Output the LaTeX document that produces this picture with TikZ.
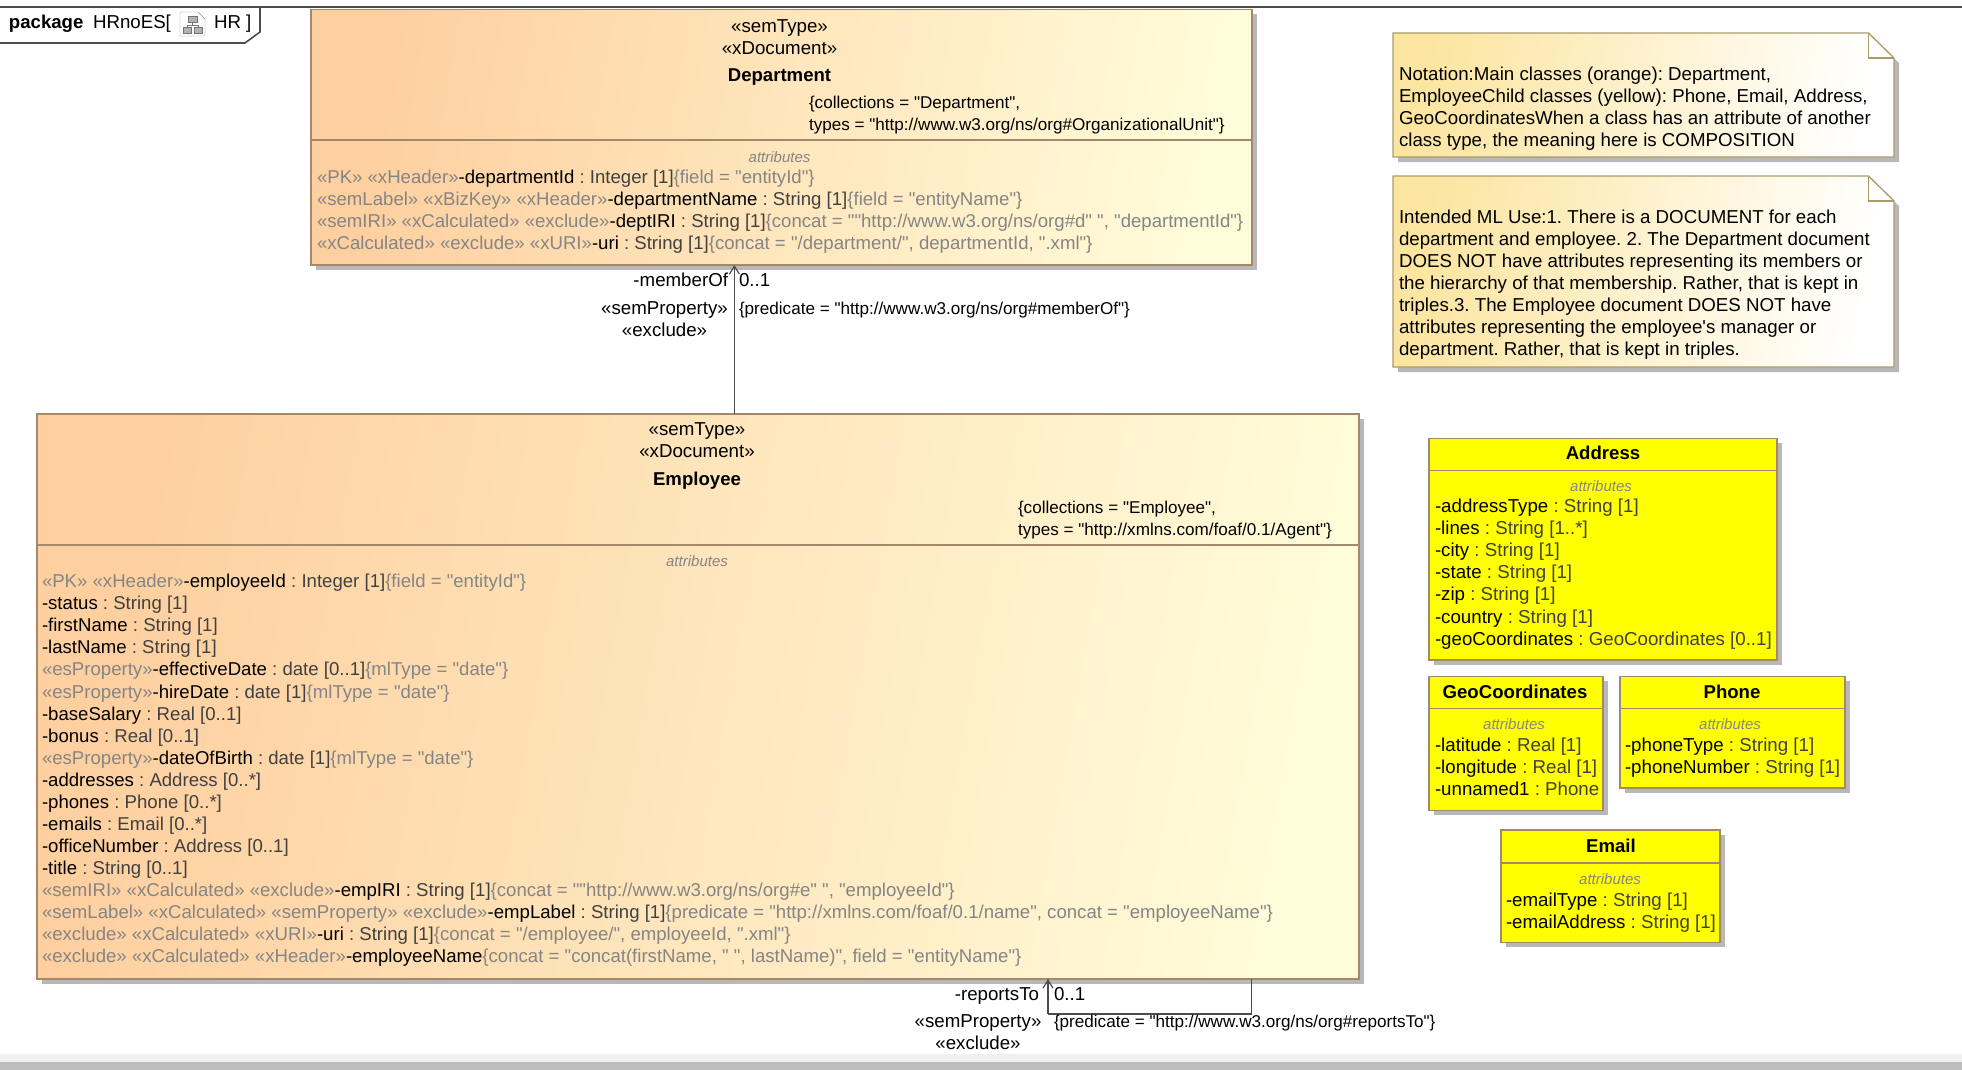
\documentclass[tikz,border=0pt]{standalone}
\usepackage{fontspec}
\defaultfontfeatures[\rmfamily]{}
\setmainfont{Liberation Sans}
\usepackage{xcolor}
\usetikzlibrary{positioning,calc,shadows,arrows.meta}
\frenchspacing
\definecolor{boxline}{HTML}{A3886A}
\definecolor{noteline}{HTML}{A89C6C}
\definecolor{orangeL}{HTML}{FECF9F}
\definecolor{orangeR}{HTML}{FFFCD9}
\definecolor{noteL}{HTML}{FCE5A0}
\definecolor{stereogray}{HTML}{858585}
\definecolor{typegray}{HTML}{404040}
\definecolor{shadowgray}{HTML}{B8B8B8}
\definecolor{childfill}{HTML}{FFFF00}
\tikzset{boxshadow/.style={copy shadow={shadow xshift=5pt, shadow yshift=-5pt, fill=shadowgray, draw=none}}}
\tikzset{clsbox/.style={draw=boxline, line width=1.3pt, inner sep=0, outer sep=0, anchor=north west, boxshadow}}
\tikzset{mainbox/.style={clsbox, bottom color=orangeL, top color=orangeR, shading angle=-100}}
\tikzset{childbox/.style={clsbox, fill=childfill}}
\tikzset{notepaper/.style={draw=noteline, line width=1.3pt, bottom color=noteL, top color=white, shading angle=-100}}
\tikzset{txt/.style={inner sep=0, outer sep=0, font=\fontsize{18.7}{22}\selectfont}}
\tikzset{row/.style={txt, anchor=base west}}
\tikzset{mainrow/.style={row, font=\fontsize{18.6}{22}\selectfont}}
\tikzset{tagrow/.style={row, font=\fontsize{17.1}{22}\selectfont}}
\tikzset{mid/.style={txt, anchor=base}}
\tikzset{attr/.style={mid, font=\fontsize{15}{18}\itshape\selectfont, text=stereogray}}
\tikzset{ttl/.style={mid, font=\fontsize{18.6}{22}\bfseries\selectfont}}
\tikzset{arr/.style={draw=black!70, line width=1.2pt, -{Straight Barb[length=8pt, width=10pt]}}}
\tikzset{lnk/.style={draw=black!70, line width=1.2pt}}
\newcommand{\stereo}[1]{\textcolor{stereogray}{#1}}
\newcommand{\typ}[1]{\textcolor{typegray}{#1}}

\begin{document}
\begin{tikzpicture}[x=1pt, y=-1pt]
    \useasboundingbox (0,0) rectangle (1962,1070);
    % frame of the package
    \draw[black!70, line width=1.6pt] (0,7) -- (1962,7);
    \draw[black!70, line width=1.6pt, fill=white] (-3,7) -- (260,7) -- (260,32) -- (245,43) -- (-3,43);
    \node[row, font=\fontsize{18.6}{22}\bfseries\selectfont] (pkgword) at (9,28.5) {package};
    \node[row] (pkgname) at (93,28.5) {HRnoES[};
    \node[row] (pkgend) at (214,28.5) {HR ]};
    \draw[black!45, fill=white] (180,12) -- (198,12) -- (205,19) -- (205,36) -- (180,36) -- cycle;
    \draw[black!55, fill=black!30] (188,16) rectangle (197,22);
    \draw[black!55, fill=black!30] (183,27) rectangle (191,33);
    \draw[black!55, fill=black!30] (194,27) rectangle (202,33);
    \draw[black!55] (192.5,22) -- (192.5,25) (187,27) -- (187,25) -- (198,25) -- (198,27);

    % main classes
    \node[mainbox, minimum width=941pt, minimum height=255.5pt] (dept) at (311,9.5) {};
    \node[mainbox, minimum width=1322pt, minimum height=565pt] (emp) at (37,414) {};
    % child classes
    \node[childbox, minimum width=348pt, minimum height=221.7pt] (addr) at (1429,438.3) {};
    \node[childbox, minimum width=174pt, minimum height=134pt] (geo) at (1429,676.2) {};
    \node[childbox, minimum width=225pt, minimum height=111.8pt] (phone) at (1620,676.2) {};
    \node[childbox, minimum width=219pt, minimum height=112.4pt] (mail) at (1501,830) {};

    \foreach \nm/\cuty in {dept/140, emp/545, addr/470.3, geo/708.2, phone/708.2, mail/863}{
        \coordinate (cut) at (0,\cuty);
        \draw[boxline, line width=1.3pt] (\nm.west |- cut) -- (\nm.east |- cut);
    }

    % headers
    \node[mid] (deptst1) at (779.5,32.5) {«semType»};
    \node[mid] (deptst2) at (779.5,54.5) {«xDocument»};
    \node[ttl] (depttl) at (779.5,81.5) {Department};
    \node[tagrow] (depttag1) at (809,108.5) {\{collections = "Department",};
    \node[tagrow] (depttag2) at (809,130.5) {types = "http://www.w3.org/ns/org\#OrganizationalUnit"\}};
    \node[attr] (deptattr) at (779.5,163) {attributes};

    \node[mid] (empst1) at (697,435.7) {«semType»};
    \node[mid] (empst2) at (697,457.7) {«xDocument»};
    \node[ttl] (emptl) at (697,485.7) {Employee};
    \node[tagrow] (emptag1) at (1018,513) {\{collections = "Employee",};
    \node[tagrow] (emptag2) at (1018,535) {types = "http://xmlns.com/foaf/0.1/Agent"\}};
    \node[attr] (empattr) at (697,566.5) {attributes};

    % attribute rows
    \foreach \txt [count=\i from 0] in {
        {\stereo{«PK» «xHeader»}-departmentId \typ{: Integer [1]}\stereo{\{field = "entityId"\}}},
        {\stereo{«semLabel» «xBizKey» «xHeader»}-departmentName \typ{: String [1]}\stereo{\{field = "entityName"\}}},
        {\stereo{«semIRI» «xCalculated» «exclude»}-deptIRI \typ{: String [1]}\stereo{\{concat = ""http://www.w3.org/ns/org\#d" ", "departmentId"\}}},
        {\stereo{«xCalculated» «exclude» «xURI»}-uri \typ{: String [1]}\stereo{\{concat = "/department/", departmentId, ".xml"\}}}
    }{
        \node[mainrow] (deptrow\i) at (317,183.5+22*\i) {\txt};
    }
    \foreach \txt [count=\i from 0] in {
        {\stereo{«PK» «xHeader»}-employeeId \typ{: Integer [1]}\stereo{\{field = "entityId"\}}},
        {-status \typ{: String [1]}},
        {-firstName \typ{: String [1]}},
        {-lastName \typ{: String [1]}},
        {\stereo{«esProperty»}-effectiveDate \typ{: date [0..1]}\stereo{\{mlType = "date"\}}},
        {\stereo{«esProperty»}-hireDate \typ{: date [1]}\stereo{\{mlType = "date"\}}},
        {-baseSalary \typ{: Real [0..1]}},
        {-bonus \typ{: Real [0..1]}},
        {\stereo{«esProperty»}-dateOfBirth \typ{: date [1]}\stereo{\{mlType = "date"\}}},
        {-addresses \typ{: Address [0..*]}},
        {-phones \typ{: Phone [0..*]}},
        {-emails \typ{: Email [0..*]}},
        {-officeNumber \typ{: Address [0..1]}},
        {-title \typ{: String [0..1]}},
        {\stereo{«semIRI» «xCalculated» «exclude»}-empIRI \typ{: String [1]}\stereo{\{concat = ""http://www.w3.org/ns/org\#e" ", "employeeId"\}}},
        {\stereo{«semLabel» «xCalculated» «semProperty» «exclude»}-empLabel \typ{: String [1]}\stereo{\{predicate = "http://xmlns.com/foaf/0.1/name", concat = "employeeName"\}}},
        {\stereo{«exclude» «xCalculated» «xURI»}-uri \typ{: String [1]}\stereo{\{concat = "/employee/", employeeId, ".xml"\}}},
        {\stereo{«exclude» «xCalculated» «xHeader»}-employeeName\stereo{\{concat = "concat(firstName, " ", lastName)", field = "entityName"\}}}
    }{
        \node[mainrow] (emprow\i) at (42,587.7+22.06*\i) {\txt};
    }

    % child classes text
    \node[ttl] (addrtl) at (1603,459.7) {Address};
    \node[attr] (addrattr) at (1601,491.8) {attributes};
    \foreach \txt [count=\i from 0] in {
        {-addressType \typ{: String [1]}},
        {-lines \typ{: String [1..*]}},
        {-city \typ{: String [1]}},
        {-state \typ{: String [1]}},
        {-zip \typ{: String [1]}},
        {-country \typ{: String [1]}},
        {-geoCoordinates \typ{: GeoCoordinates [0..1]}}
    }{
        \node[row] (addrrow\i) at (1435,512.8+22.04*\i) {\txt};
    }
    \node[ttl] (geotl) at (1515,698) {GeoCoordinates};
    \node[attr] (geoattr) at (1514,729.8) {attributes};
    \node[row] (georow0) at (1435,751) {-latitude \typ{: Real [1]}};
    \node[row] (georow1) at (1435,773) {-longitude \typ{: Real [1]}};
    \node[row] (georow2) at (1435,795) {-unnamed1 \typ{: Phone}};

    \node[ttl] (phonetl) at (1732,698) {Phone};
    \node[attr] (phoneattr) at (1730,729.8) {attributes};
    \node[row] (phonerow0) at (1625,751) {-phoneType \typ{: String [1]}};
    \node[row] (phonerow1) at (1625,773) {-phoneNumber \typ{: String [1]}};

    \node[ttl] (mailtl) at (1611,852.3) {Email};
    \node[attr] (mailattr) at (1610,884.5) {attributes};
    \node[row] (mailrow0) at (1506,906) {-emailType \typ{: String [1]}};
    \node[row] (mailrow1) at (1506,928) {-emailAddress \typ{: String [1]}};

    % notes
    \foreach \nm/\t/\b in {A/33/157, B/176/367}{
        \fill[shadowgray] (1398,\t+5) -- (1873.5,\t+5) -- (1899,\t+30) -- (1899,\b+5) -- (1398,\b+5) -- cycle;
        \draw[notepaper] (1393,\t) -- (1868.5,\t) -- (1894,\t+25) -- (1894,\b) -- (1393,\b) -- cycle;
        \draw[noteline, line width=1.3pt] (1868.5,\t) -- (1868.5,\t+25) -- (1894,\t+25);
    }
    \node[row, align=left, anchor=north west] (noteAtext) at (1399,67) {Notation:Main classes (orange): Department,\\
        EmployeeChild classes (yellow): Phone, Email, Address,\\
        GeoCoordinatesWhen a class has an attribute of another\\
        class type, the meaning here is COMPOSITION};
    \node[row, align=left, anchor=north west] (noteBtext) at (1399,210) {Intended ML Use:1. There is a DOCUMENT for each\\
        department and employee. 2. The Department document\\
        DOES NOT have attributes representing its members or\\
        the hierarchy of that membership. Rather, that is kept in\\
        triples.3. The Employee document DOES NOT have\\
        attributes representing the employee's manager or\\
        department. Rather, that is kept in triples.};

    % associations
    \coordinate (memberx) at (734.4,300);
    \draw[arr] (memberx |- emp.north) -- (memberx |- dept.south);
    \node[row, anchor=base east] (memberrole) at (728,286.5) {-memberOf};
    \node[row] (membermul) at (739,286.5) {0..1};
    \node[mid] (memberst1) at (664.5,314) {«semProperty»};
    \node[mid] (memberst2) at (664.5,336) {«exclude»};
    \node[tagrow] (membertag) at (739,314) {\{predicate = "http://www.w3.org/ns/org\#memberOf"\}};

    \coordinate (selfa) at (1048,1014);
    \coordinate (selfb) at (1251.6,1014);
    \draw[lnk] (selfb |- emp.south) -- (selfb) -- (selfa);
    \draw[arr] (selfa) -- (selfa |- emp.south);
    \node[row, anchor=base east] (selfrole) at (1039,1000.5) {-reportsTo};
    \node[row] (selfmul) at (1054,1000.5) {0..1};
    \node[mid] (selfst1) at (978,1027.5) {«semProperty»};
    \node[mid] (selfst2) at (978,1049.5) {«exclude»};
    \node[tagrow] (selftag) at (1054,1027.5) {\{predicate = "http://www.w3.org/ns/org\#reportsTo"\}};

    % window edge
    \fill[black!6] (0,1054) rectangle (1962,1062);
    \fill[black!26] (0,1062) rectangle (1962,1070);
\end{tikzpicture}
\end{document}
